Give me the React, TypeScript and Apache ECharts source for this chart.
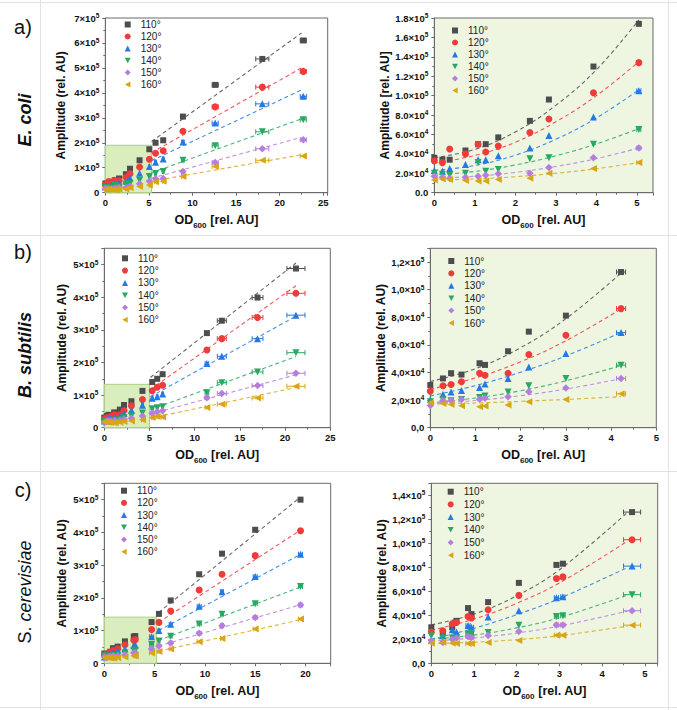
import React, { useEffect, useRef } from 'react';
import * as echarts from 'echarts';

const FONT = 'Liberation Sans, Arial, sans-serif';
const ANGLES = ['110°', '120°', '130°', '140°', '150°', '160°'];
const COLORS = ['#4d4d4d', '#f03b3b', '#2479e4', '#2aa862', '#b57de0', '#d9a514'];
const SYMBOLS = ['rect', 'circle', 'triangle', 'path://M0,0L10,0L5,9Z', 'diamond', 'path://M9,0L9,10L0,5Z'];
const SIZES = [6, 7, 7, 7, 7.5, 7];

// ---- E. coli ----
const X_A = [0, 0.2, 0.38, 0.77, 1.08, 1.27, 1.58, 2.36, 2.83, 3.93, 5.05, 5.76, 6.64, 8.9, 12.6, 18.0, 22.7];
const XERR_A = [0, 0, 0, 0, 0, 0, 0, 0, 0, 0, 0.05, 0.1, 0.1, 0.15, 0.35, 0.75, 0.35];
const A110 = [3.6e4, 3.4e4, 3.4e4, 4.35e4, 5.0e4, 5.0e4, 5.7e4, 7.4e4, 9.6e4, 1.3e5, 1.74e5, 2.0e5, 2.1e5, 3.05e5, 4.32e5, 5.36e5, 6.1e5];
const A120 = [3.3e4, 3.1e4, 4.5e4, 4.0e4, 5.0e4, 4.2e4, 4.8e4, 6.2e4, 7.6e4, 1.03e5, 1.34e5, 1.58e5, 1.68e5, 2.46e5, 3.44e5, 4.23e5, 4.86e5];
const A130 = [2.3e4, 2.2e4, 2.5e4, 2.9e4, 3.4e4, 3.4e4, 3.8e4, 4.6e4, 5.9e4, 7.8e4, 1.05e5, 1.22e5, 1.35e5, 2.03e5, 2.79e5, 3.56e5, 3.86e5];
const A140 = [2.0e4, 1.9e4, 1.8e4, 2.0e4, 3.1e4, 2.2e4, 2.4e4, 3.5e4, 3.6e4, 5.0e4, 6.5e4, 7.7e4, 8.5e4, 1.3e5, 1.88e5, 2.44e5, 2.92e5];
const A150 = [1.7e4, 1.6e4, 1.5e4, 1.6e4, 1.7e4, 1.8e4, 1.95e4, 2.0e4, 2.6e4, 3.6e4, 4.6e4, 5.6e4, 5.7e4, 8.5e4, 1.21e5, 1.76e5, 2.12e5];
const A160 = [1.3e4, 1.4e4, 1.35e4, 1.25e4, 1.2e4, 1.2e4, 1.35e4, 1.5e4, 2.0e4, 2.5e4, 3.1e4, 4.4e4, 4.6e4, 6.5e4, 1.05e5, 1.3e5, 1.47e5];
const FIT_A_LEFT = [
  [[5.3, 2.05e5], [22.5, 6.4e5]],
  [[5.3, 1.6e5], [22.5, 5.0e5]],
  [[5.3, 1.28e5], [22.5, 4.12e5]],
  [[5.3, 8.0e4], [22.5, 2.96e5]],
  [[5.3, 5.8e4], [22.5, 2.22e5]],
  [[5.3, 4.6e4], [22.5, 1.52e5]],
];
const FIT_A_RIGHT = [
  [[0, 3.6e4], [1, 4.46e4], [2, 6.26e4], [3, 9.0e4], [4, 1.267e5], [5.05, 1.78e5]],
  [[0, 3.05e4], [1, 3.84e4], [2, 5.2e4], [3, 7.3e4], [4, 9.99e4], [5.05, 1.35e5]],
  [[0, 2.3e4], [1, 2.8e4], [2, 3.87e4], [3, 5.5e4], [4, 7.69e4], [5.05, 1.06e5]],
  [[0, 1.8e4], [1, 2.19e4], [2, 2.86e4], [3, 3.8e4], [4, 5.02e4], [5.05, 6.6e4]],
  [[0, 1.5e4], [1, 1.69e4], [2, 2.09e4], [3, 2.7e4], [4, 3.51e4], [5.05, 4.6e4]],
  [[0, 1.3e4], [1, 1.41e4], [2, 1.65e4], [3, 2.0e4], [4, 2.47e4], [5.05, 3.1e4]],
];
const INSET_A = [5.3, 1.9e5];

// ---- B. subtilis ----
const X_B = [0, 0.28, 0.46, 0.69, 1.09, 1.21, 1.72, 2.18, 3.0, 4.22, 5.3, 5.85, 6.45, 11.35, 13.0, 16.95, 21.2];
const XERR_B = [0, 0, 0, 0, 0, 0, 0, 0, 0, 0.1, 0.1, 0.1, 0.1, 0.2, 0.5, 0.6, 1.0];
const B110 = [3.1e4, 3.57e4, 3.95e4, 3.85e4, 4.67e4, 4.55e4, 5.54e4, 6.96e4, 8.12e4, 1.128e5, 1.4e5, 1.5e5, 1.64e5, 2.9e5, 3.28e5, 3.99e5, 4.88e5];
const B120 = [2.65e4, 3.04e4, 3.13e4, 3.33e4, 3.95e4, 3.8e4, 3.95e4, 5.3e4, 6.7e4, 8.63e4, 1.13e5, 1.24e5, 1.3e5, 2.38e5, 2.73e5, 3.38e5, 4.12e5];
const B130 = [2.05e4, 2.43e4, 2.58e4, 2.7e4, 2.92e4, 3.16e4, 3.57e4, 4.39e4, 5.37e4, 6.89e4, 9.0e4, 9.5e4, 1.03e5, 1.97e5, 2.19e5, 2.73e5, 3.45e5];
const B140 = [1.88e4, 2.02e4, 1.95e4, 2.05e4, 2.19e4, 2.29e4, 2.58e4, 3.04e4, 3.57e4, 4.53e4, 5.8e4, 6.1e4, 6.4e4, 1.07e5, 1.38e5, 1.71e5, 2.3e5];
const B150 = [1.6e4, 1.98e4, 1.98e4, 2.05e4, 2.07e4, 2.14e4, 2.24e4, 2.6e4, 2.87e4, 3.57e4, 4.4e4, 4.9e4, 5.2e4, 9.2e4, 1.05e5, 1.29e5, 1.67e5];
const B160 = [1.8e4, 1.76e4, 1.69e4, 1.59e4, 1.52e4, 1.57e4, 1.64e4, 1.88e4, 2.05e4, 2.46e4, 3.1e4, 3.4e4, 3.3e4, 6.2e4, 7.2e4, 9.1e4, 1.27e5];
const FIT_B_LEFT = [
  [[5.1, 1.54e5], [21.2, 5.05e5]],
  [[5.1, 1.17e5], [21.2, 4.35e5]],
  [[5.1, 9.5e4], [21.2, 3.42e5]],
  [[5.1, 5.5e4], [21.2, 2.18e5]],
  [[5.1, 4.2e4], [21.2, 1.62e5]],
  [[5.1, 2.9e4], [21.2, 1.23e5]],
];
const FIT_B_RIGHT = [
  [[0, 3.35e4], [1, 4.28e4], [2, 5.8e4], [3, 7.9e4], [4.22, 1.12e5]],
  [[0, 2.8e4], [1, 3.61e4], [2, 4.78e4], [3, 6.3e4], [4.22, 8.6e4]],
  [[0, 2.3e4], [1, 3.05e4], [2, 4.02e4], [3, 5.2e4], [4.22, 6.9e4]],
  [[0, 1.8e4], [1, 2.15e4], [2, 2.68e4], [3, 3.4e4], [4.22, 4.5e4]],
  [[0, 1.75e4], [1, 1.97e4], [2, 2.32e4], [3, 2.8e4], [4.22, 3.55e4]],
  [[0, 1.7e4], [1, 1.79e4], [2, 1.91e4], [3, 2.05e4], [4.22, 2.25e4]],
];
const INSET_B = [5.0, 1.33e5];

// ---- S. cerevisiae ----
const X_C = [0, 0.27, 0.49, 0.59, 0.86, 0.94, 1.33, 2.05, 2.93, 3.08, 4.7, 5.43, 6.6, 9.43, 11.7, 15.0, 19.5];
const XERR_C = [0, 0, 0, 0, 0.05, 0.05, 0, 0, 0.05, 0.05, 0.2, 0.1, 0.15, 0.2, 0.15, 0.2, 0.2];
const C110 = [3.0e4, 2.6e4, 3.0e4, 3.54e4, 4.6e4, 4.1e4, 5.1e4, 6.7e4, 8.2e4, 8.3e4, 1.26e5, 1.51e5, 1.92e5, 2.72e5, 3.35e5, 4.08e5, 5.0e5];
const C120 = [2.6e4, 2.7e4, 3.3e4, 3.4e4, 3.9e4, 3.77e4, 4.46e4, 5.66e4, 7.06e4, 7.2e4, 1.03e5, 1.25e5, 1.6e5, 2.24e5, 2.72e5, 3.29e5, 4.05e5];
const C130 = [1.9e4, 2.3e4, 2.8e4, 2.6e4, 3.15e4, 3.0e4, 3.85e4, 4.38e4, 5.47e4, 5.55e4, 8.1e4, 1.0e5, 1.19e5, 1.74e5, 2.19e5, 2.65e5, 3.33e5];
const C140 = [2.3e4, 2.1e4, 2.1e4, 2.1e4, 2.45e4, 2.42e4, 2.57e4, 3.18e4, 3.9e4, 3.96e4, 5.72e4, 6.8e4, 8.3e4, 1.2e5, 1.5e5, 1.82e5, 2.35e5];
const C150 = [1.9e4, 1.73e4, 2.0e4, 2.1e4, 2.23e4, 2.15e4, 2.31e4, 2.65e4, 3.2e4, 3.2e4, 4.38e4, 5.3e4, 6.2e4, 9.2e4, 1.15e5, 1.4e5, 1.78e5];
const C160 = [1.67e4, 1.76e4, 1.67e4, 1.65e4, 1.65e4, 1.65e4, 1.73e4, 1.9e4, 2.34e4, 2.34e4, 3.18e4, 3.6e4, 4.4e4, 6.6e4, 7.6e4, 1.05e5, 1.35e5];
const FIT_C_LEFT = [
  [[5.4, 1.55e5], [19.5, 5.08e5]],
  [[5.4, 1.25e5], [19.5, 4.07e5]],
  [[5.4, 1.0e5], [19.5, 3.33e5]],
  [[5.4, 7.0e4], [19.5, 2.33e5]],
  [[5.4, 5.3e4], [19.5, 1.79e5]],
  [[5.4, 3.7e4], [19.5, 1.33e5]],
];
const FIT_C_RIGHT = [
  [[0, 3.2e4], [1, 4.1e4], [2, 5.63e4], [3, 7.8e4], [4.6, 1.26e5]],
  [[0, 2.75e4], [1, 3.69e4], [2, 5.0e4], [3, 6.7e4], [4.6, 1.02e5]],
  [[0, 2.0e4], [1, 2.92e4], [2, 4.05e4], [3, 5.4e4], [4.6, 8.0e4]],
  [[0, 2.0e4], [1, 2.35e4], [2, 2.95e4], [3, 3.8e4], [4.6, 5.7e4]],
  [[0, 1.85e4], [1, 2.11e4], [2, 2.52e4], [3, 3.1e4], [4.6, 4.35e4]],
  [[0, 1.65e4], [1, 1.75e4], [2, 1.97e4], [3, 2.3e4], [4.6, 3.1e4]],
];
const INSET_C = [5.2, 1.41e5];

const SPECIES = [
  { x: X_A, err: XERR_A, ys: [A110, A120, A130, A140, A150, A160], fitL: FIT_A_LEFT, fitR: FIT_A_RIGHT, inset: INSET_A, nRight: 11 },
  { x: X_B, err: XERR_B, ys: [B110, B120, B130, B140, B150, B160], fitL: FIT_B_LEFT, fitR: FIT_B_RIGHT, inset: INSET_B, nRight: 10 },
  { x: X_C, err: XERR_C, ys: [C110, C120, C130, C140, C150, C160], fitL: FIT_C_LEFT, fitR: FIT_C_RIGHT, inset: INSET_C, nRight: 11 },
];

// layout of the six panels
const PANELS = [
  { sp: 0, right: false, left: 105.3, top: 18, width: 222.4, height: 174.7, xMax: 25.5, xInt: 5, yMax: 7e5, yInt: 1e5, dec: false, sep: '.', yName: 'Amplitude (rel. AU)', yGap: 38, lg: [127.7, 24.5, 12] },
  { sp: 0, right: true, left: 434.3, top: 18, width: 218.7, height: 174.7, xMax: 5.4, xInt: 1, yMax: 1.8e5, yInt: 2e4, dec: true, sep: '.', yName: 'Amplitude [rel. AU]', yGap: 43, lg: [455, 30.5, 12] },
  { sp: 1, right: false, left: 104.3, top: 248.3, width: 226, height: 179.4, xMax: 25, xInt: 5, yMax: 5.5e5, yInt: 1e5, dec: false, sep: '.', yName: 'Amplitude (rel. AU)', yGap: 36, lg: [125, 258.3, 12.3] },
  { sp: 1, right: true, left: 430.3, top: 248.3, width: 226, height: 179.4, xMax: 5, xInt: 1, yMax: 1.3e5, yInt: 2e4, dec: true, sep: ',', yName: 'Amplitude (rel. AU)', yGap: 40, lg: [451.3, 261, 12.4] },
  { sp: 2, right: false, left: 104.3, top: 483.3, width: 226.4, height: 180, xMax: 22.5, xInt: 5, yMax: 5.5e5, yInt: 1e5, dec: false, sep: '.', yName: 'Amplitude (rel. AU)', yGap: 36, lg: [124, 490.7, 12.2] },
  { sp: 2, right: true, left: 431.3, top: 483.3, width: 226.4, height: 180, xMax: 5.3, xInt: 1, yMax: 1.5e5, yInt: 2e4, dec: true, sep: ',', yName: 'Amplitude (rel. AU)', yGap: 40, lg: [450.7, 491.7, 12.7] },
];

const AXIS_COLOR = '#6b6b6b';

function sciLabel(v: number, dec: boolean, sep: string) {
  if (v === 0) return dec ? (sep === ',' ? '0,0' : '0.0') : '0';
  const e = Math.floor(Math.log10(v) + 1e-9);
  const m = v / Math.pow(10, e);
  let ms = dec ? m.toFixed(1) : String(Math.round(m));
  if (sep === ',') ms = ms.replace('.', ',');
  return `{m|${ms}×10}{s|${e}}`;
}

function buildOption() {
  const grid: any[] = [];
  const xAxis: any[] = [];
  const yAxis: any[] = [];
  const legend: any[] = [];
  const series: any[] = [];

  PANELS.forEach((p, pi) => {
    const sp = SPECIES[p.sp];
    grid.push({
      left: p.left, top: p.top, width: p.width, height: p.height,
      show: true, borderColor: AXIS_COLOR, borderWidth: 1,
      backgroundColor: p.right ? '#eef6e2' : 'rgba(0,0,0,0)',
      containLabel: false,
    });
    xAxis.push({
      type: 'value', gridIndex: pi, min: 0, max: p.xMax, interval: p.xInt,
      axisLine: { show: true, onZero: false, lineStyle: { color: AXIS_COLOR, width: 1 } },
      axisTick: { show: true, inside: false, length: 3, lineStyle: { color: AXIS_COLOR } },
      minorTick: { show: true, splitNumber: 2, length: 2, lineStyle: { color: AXIS_COLOR } },
      splitLine: { show: false },
      axisLabel: {
        fontSize: 9.5, fontWeight: 'bold', color: '#111', fontFamily: FONT, margin: 5,
        showMaxLabel: Math.abs(p.xMax / p.xInt - Math.round(p.xMax / p.xInt)) < 1e-9,
      },
      name: '{t|OD}{u|600}{t| [rel. AU]}',
      nameLocation: 'middle', nameGap: 21,
      nameTextStyle: {
        fontFamily: FONT, fontWeight: 'bold', fontSize: 12.5, color: '#111',
        rich: {
          t: { fontFamily: FONT, fontWeight: 'bold', fontSize: 12.5, color: '#111' },
          u: { fontFamily: FONT, fontWeight: 'bold', fontSize: 8, color: '#111', verticalAlign: 'bottom', padding: [0, 0, -3, 0] },
        },
      },
    });
    yAxis.push({
      type: 'value', gridIndex: pi, min: 0, max: p.yMax, interval: p.yInt,
      axisLine: { show: true, onZero: false, lineStyle: { color: AXIS_COLOR, width: 1 } },
      axisTick: { show: true, inside: false, length: 3, lineStyle: { color: AXIS_COLOR } },
      minorTick: { show: true, splitNumber: 2, length: 2, lineStyle: { color: AXIS_COLOR } },
      splitLine: { show: false },
      axisLabel: {
        fontSize: 9.5, fontWeight: 'bold', color: '#111', fontFamily: FONT, margin: 6,
        showMaxLabel: Math.abs(p.yMax / p.yInt - Math.round(p.yMax / p.yInt)) < 1e-9,
        formatter: (v: number) => sciLabel(v, p.dec, p.sep),
        rich: {
          m: { fontSize: 9.5, fontWeight: 'bold', color: '#111', fontFamily: FONT, lineHeight: 12 },
          s: { fontSize: 6.5, fontWeight: 'bold', color: '#111', fontFamily: FONT, verticalAlign: 'top', lineHeight: 8 },
        },
      },
      name: p.yName,
      nameLocation: 'middle', nameGap: p.yGap,
      nameTextStyle: { fontFamily: FONT, fontWeight: 'bold', fontSize: 12, color: '#111' },
    });
    legend.push({
      orient: 'vertical', left: p.lg[0] - 3, top: p.lg[1] - 6, padding: 0,
      itemWidth: 6, itemHeight: 6, itemGap: p.lg[2] - 12, selectedMode: false,
      data: ANGLES,
      textStyle: { fontFamily: FONT, fontSize: 10, color: '#222', lineHeight: 12, padding: [0, 0, 0, 5] },
    });

    const n = p.right ? sp.nRight : sp.x.length;
    const fits = p.right ? sp.fitR : sp.fitL;
    for (let k = 0; k < 6; k++) {
      const color = COLORS[k];
      const pts = sp.x.slice(0, n).map((x, i) => [x, sp.ys[k][i]]);
      const errPts = sp.x.slice(0, n).map((x, i) => [x, sp.ys[k][i], sp.err[i]]).filter((d) => d[2] > 0);
      const fitSeries: any = {
        type: 'line', name: `fit-${pi}-${k}`, xAxisIndex: pi, yAxisIndex: pi,
        data: fits[k], showSymbol: false, symbol: 'none', smooth: p.right ? 0.4 : false,
        lineStyle: { color, width: 1.1, type: [4, 3], opacity: 0.85 }, itemStyle: { color },
        z: 3, silent: true,
      };
      if (!p.right && k === 5) {
        fitSeries.z = 2;
        fitSeries.markArea = {
          silent: true,
          itemStyle: { color: '#daedbf', borderColor: '#a9d27c', borderWidth: 1 },
          data: [[{ coord: [0, 0] }, { coord: [sp.inset[0], sp.inset[1]] }]],
        };
      }
      series.push(fitSeries);
      series.push({
        type: 'custom', name: `err-${pi}-${k}`, xAxisIndex: pi, yAxisIndex: pi,
        data: errPts, encode: { x: 0, y: 1 }, z: 3, silent: true,
        renderItem: (params: any, api: any) => {
          const x = api.value(0), y = api.value(1), e = api.value(2);
          const a = api.coord([x - e, y]);
          const b = api.coord([x + e, y]);
          const st = { stroke: color, lineWidth: 1, fill: 'none' };
          return {
            type: 'group',
            children: [
              { type: 'line', shape: { x1: a[0], y1: a[1], x2: b[0], y2: b[1] }, style: st },
              { type: 'line', shape: { x1: a[0], y1: a[1] - 2.5, x2: a[0], y2: a[1] + 2.5 }, style: st },
              { type: 'line', shape: { x1: b[0], y1: b[1] - 2.5, x2: b[0], y2: b[1] + 2.5 }, style: st },
            ],
          };
        },
      });
      series.push({
        type: 'scatter', name: ANGLES[k], xAxisIndex: pi, yAxisIndex: pi,
        data: pts, symbol: SYMBOLS[k], symbolSize: SIZES[k],
        itemStyle: { color, opacity: 1 }, z: 4, silent: true,
      });
    }
  });

  const lineStyle = { stroke: '#e2e2e2', lineWidth: 1 };
  const graphic: any[] = [
    { type: 'line', shape: { x1: 0, y1: 2.5, x2: 677, y2: 2.5 }, style: lineStyle },
    { type: 'line', shape: { x1: 0, y1: 235.5, x2: 677, y2: 235.5 }, style: lineStyle },
    { type: 'line', shape: { x1: 0, y1: 471.5, x2: 677, y2: 471.5 }, style: lineStyle },
    { type: 'line', shape: { x1: 0, y1: 707.5, x2: 677, y2: 707.5 }, style: lineStyle },
    { type: 'line', shape: { x1: 40.5, y1: 0, x2: 40.5, y2: 710 }, style: lineStyle },
    { type: 'line', shape: { x1: 668.5, y1: 0, x2: 668.5, y2: 710 }, style: lineStyle },
    { type: 'text', x: 23, y: 27, style: { text: 'a)', fontSize: 20, fontFamily: FONT, fill: '#111', align: 'center', verticalAlign: 'middle' } },
    { type: 'text', x: 23, y: 252, style: { text: 'b)', fontSize: 20, fontFamily: FONT, fill: '#111', align: 'center', verticalAlign: 'middle' } },
    { type: 'text', x: 23, y: 490, style: { text: 'c)', fontSize: 20, fontFamily: FONT, fill: '#111', align: 'center', verticalAlign: 'middle' } },
    { type: 'text', x: 25, y: 120, rotation: Math.PI / 2, style: { text: 'E. coli', fontSize: 18, fontWeight: 'bold', fontStyle: 'italic', fontFamily: FONT, fill: '#111', align: 'center', verticalAlign: 'middle' } },
    { type: 'text', x: 25, y: 355, rotation: Math.PI / 2, style: { text: 'B. subtilis', fontSize: 18, fontWeight: 'bold', fontStyle: 'italic', fontFamily: FONT, fill: '#111', align: 'center', verticalAlign: 'middle' } },
    {
      type: 'text', x: 25, y: 592, rotation: Math.PI / 2,
      style: {
        text: '{a|S. }{b|cerevisiae}', fontSize: 18, fontFamily: FONT, fill: '#111', align: 'center', verticalAlign: 'middle',
        rich: {
          a: { fontSize: 18, fontFamily: FONT, fill: '#111' },
          b: { fontSize: 18, fontFamily: FONT, fontStyle: 'italic', fill: '#111' },
        },
      },
    },
  ];

  return {
    animation: false,
    backgroundColor: '#ffffff',
    grid, xAxis, yAxis, legend, series, graphic,
  };
}

export default function App() {
  const ref = useRef<HTMLDivElement>(null);
  useEffect(() => {
    document.body.style.margin = '0';
    if (!ref.current) return;
    const chart = echarts.init(ref.current, undefined, { renderer: 'svg' });
    chart.setOption(buildOption() as any);
    return () => chart.dispose();
  }, []);
  return <div ref={ref} style={{ width: 677, height: 710 }} />;
}
